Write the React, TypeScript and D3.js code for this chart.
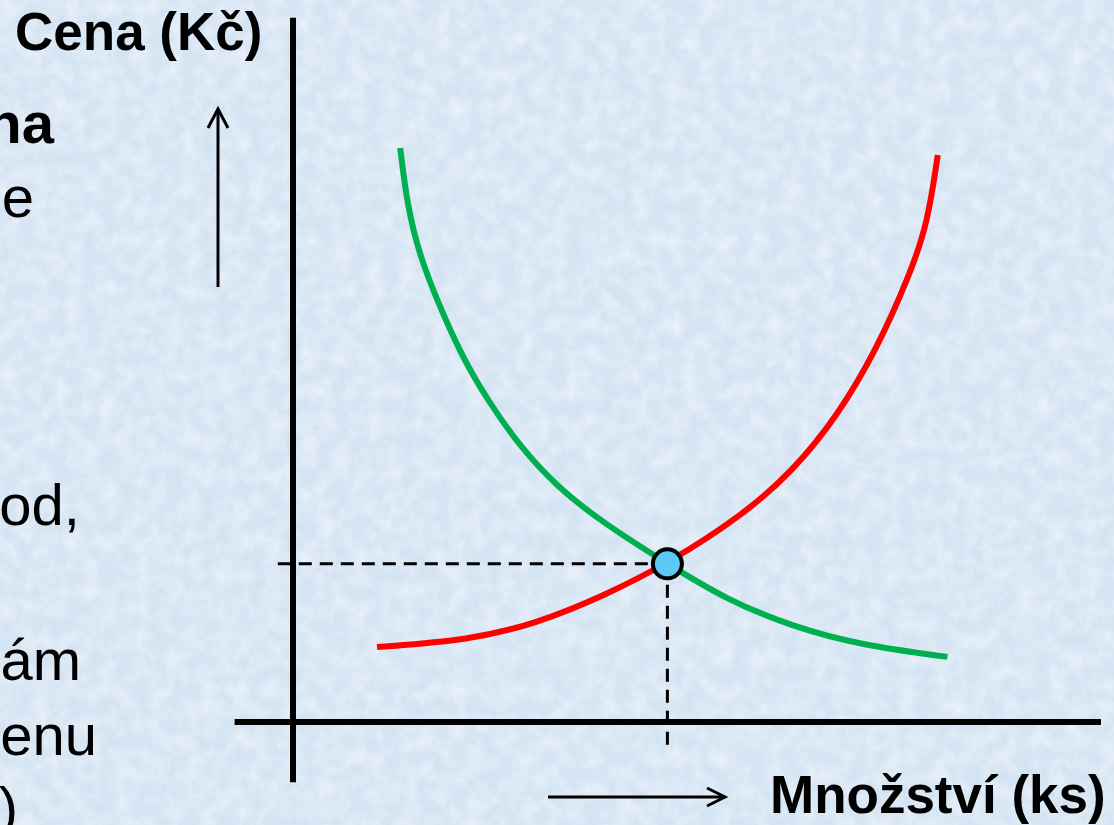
import * as d3 from "d3";

// demand (green) and supply (red): quantity / price
const demandQ = [13.4, 14.3, 15.9, 18.0, 20.9, 24.3, 28.4, 33.0, 38.8, 46.8, 54.3, 62.5, 70.9, 81.8];
const demandP = [82.0, 73.6, 66.4, 60.3, 52.7, 46.0, 39.3, 33.6, 28.4, 22.6, 17.4, 13.6, 11.0, 9.3];
const supplyQ = [10.5, 22.1, 30.5, 38.8, 46.8, 56.3, 62.5, 68.0, 73.0, 77.1, 79.3, 80.6];
const supplyP = [10.7, 11.7, 14.1, 18.0, 22.6, 29.6, 35.9, 43.6, 53.3, 63.9, 71.1, 81.0];
const equilibrium = { q: 46.8, p: 22.6 };

const xLabel = "Množství (ks)";
const yLabel = "Cena (Kč)";
// slide text cut off at the left edge
const sideText = [
  { t: "na", y: 143, x: 54, bold: true },
  { t: "e", y: 217, x: 34, bold: false },
  { t: "od,", y: 525, x: 80, bold: false },
  { t: "ám", y: 680, x: 81, bold: false },
  { t: "enu", y: 755, x: 97, bold: false },
  { t: ")", y: 828, x: 18, bold: false },
];

const W = 1114;
const H = 825;
const font = "'Liberation Sans', Arial, sans-serif";

export default function App() {
  const x = d3.scaleLinear().domain([0, 100]).range([293, 1093]);
  const y = d3.scaleLinear().domain([0, 100]).range([722, 22]);

  const toPts = (qs: number[], ps: number[]) =>
    qs.map((q, i) => [x(q), y(ps[i])] as [number, number]);
  const path = d3.line().curve(d3.curveBasis);

  const ex = x(equilibrium.q);
  const ey = y(equilibrium.p);

  return (
    <svg
      width={W}
      height={H}
      style={{ position: "fixed", left: 0, top: 0 }}
      fontFamily={font}
    >
      <defs>
        <filter id="tex" x="0" y="0" width="100%" height="100%">
          <feTurbulence type="fractalNoise" baseFrequency="0.06" numOctaves={3} seed={4} />
          <feColorMatrix
            type="matrix"
            values="0 0 0 0 1  0 0 0 0 1  0 0 0 0 1  0 0 0 -1.6 1.05"
          />
        </filter>
      </defs>
      <rect width={W} height={H} fill="#d5e4f3" />
      <rect width={W} height={H} filter="url(#tex)" opacity={0.55} />

      {/* axes */}
      <line x1={x(0)} x2={x(0)} y1={y(-8.6)} y2={y(100.6)} stroke="#000" strokeWidth={6} />
      <line x1={x(-7.3)} x2={x(101)} y1={y(0)} y2={y(0)} stroke="#000" strokeWidth={6} />

      {/* guide lines to the equilibrium */}
      <line x1={x(-1.9)} x2={ex} y1={ey} y2={ey} stroke="#000" strokeWidth={3} strokeDasharray="13,8" />
      <line x1={ex} x2={ex} y1={ey} y2={y(-3.3)} stroke="#000" strokeWidth={3} strokeDasharray="13,8" />

      <path d={path(toPts(supplyQ, supplyP)) || ""} fill="none" stroke="#ff0000" strokeWidth={6} />
      <path d={path(toPts(demandQ, demandP)) || ""} fill="none" stroke="#00b050" strokeWidth={6} />

      <circle cx={ex} cy={ey} r={14.5} fill="#5bc8f5" stroke="#000" strokeWidth={4} />

      {/* direction arrows */}
      <g stroke="#000" strokeWidth={3} fill="none">
        <line x1={218} x2={218} y1={287} y2={109} />
        <polyline points="208,128 218,109 228,128" />
        <line x1={548} x2={725} y1={797} y2={797} />
        <polyline points="707,788 725,797 707,806" />
      </g>

      <text x={15} y={50} fontSize={53} fontWeight="bold" fill="#000">
        {yLabel}
      </text>
      <text x={770} y={813} fontSize={53} fontWeight="bold" fill="#000">
        {xLabel}
      </text>

      {sideText.map((s) => (
        <text
          key={s.t}
          x={s.x}
          y={s.y}
          textAnchor="end"
          fontSize={58}
          fontWeight={s.bold ? "bold" : "normal"}
          fill="#000"
        >
          {s.t}
        </text>
      ))}
    </svg>
  );
}
